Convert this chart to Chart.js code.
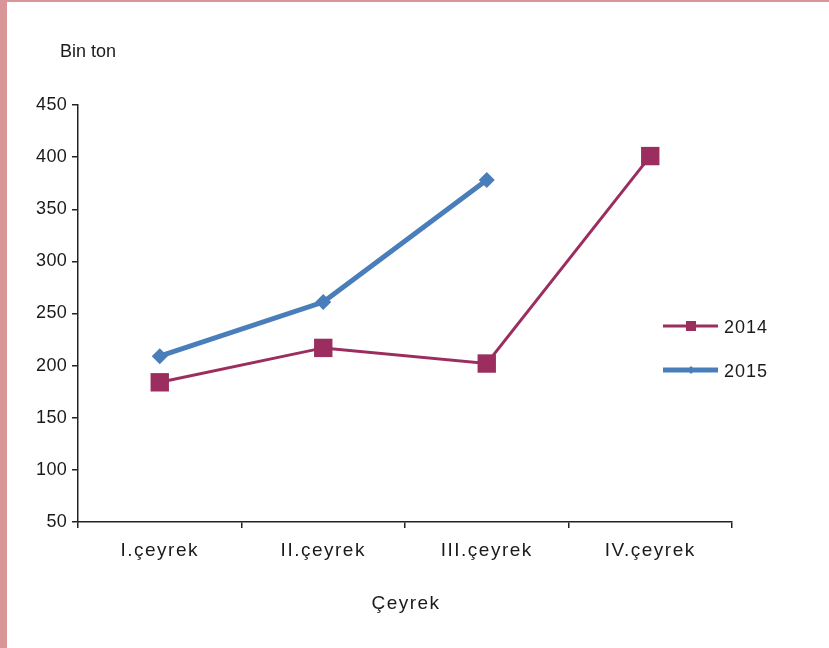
<!DOCTYPE html>
<html>
<head>
<meta charset="utf-8">
<script src="https://cdn.jsdelivr.net/npm/chart.js@4.4.1/dist/chart.umd.min.js"></script>
<style>
  html, body { margin: 0; padding: 0; background: #fff; }
  #frame {
    width: 822px; height: 646px;
    border-left: 7px solid #d99597;
    border-top: 2px solid #d99597;
    position: relative;
  }
  canvas { display: block; }
</style>
</head>
<body>
<div id="frame"><canvas id="myChart" width="822" height="646"></canvas></div>
<script>
'use strict';
// data
let quarters = ['I.çeyrek', 'II.çeyrek', 'III.çeyrek', 'IV.çeyrek'];
let seriesNames = ['2014', '2015'];
let values2014 = [184, 217, 202, 401];
let values2015 = [209, 261, 378, null];
let yTicks = [50, 100, 150, 200, 250, 300, 350, 400, 450];
let yTitle = 'Bin ton';
let xTitle = 'Çeyrek';

let col2014 = '#9b2d5f';
let col2015 = '#4a7ebb';
let fontName = '"Liberation Sans", Arial, sans-serif';

// x labels in the picture are spaced a bit wider than the y numbers
let spacing = {
  id: 'spacing',
  beforeDraw(chart) { chart.ctx.letterSpacing = '1.5px'; },
  afterDatasetsDraw(chart) { chart.ctx.letterSpacing = '0.3px'; }
};

// titles + legend drawn on canvas
let extras = {
  id: 'extras',
  afterDraw(chart) {
    let ctx = chart.ctx;
    ctx.save();
    ctx.fillStyle = '#1a1a1a';
    ctx.font = '18px ' + fontName;
    ctx.textBaseline = 'middle';
    ctx.letterSpacing = '0px';
    ctx.textAlign = 'left';
    ctx.fillText(yTitle, 53, 50);
    ctx.font = '19px ' + fontName;
    ctx.letterSpacing = '1.5px';
    ctx.textAlign = 'center';
    ctx.fillText(xTitle, 399, 602);

    // legend
    ctx.font = '18px ' + fontName;
    ctx.letterSpacing = '1px';
    let rows = [
      {name: seriesNames[0], color: col2014, y: 324, w: 3, style: 'rect'},
      {name: seriesNames[1], color: col2015, y: 368, w: 5, style: 'diamond'}
    ];
    rows.forEach(function (r) {
      ctx.strokeStyle = r.color;
      ctx.lineWidth = r.w;
      ctx.beginPath();
      ctx.moveTo(656, r.y);
      ctx.lineTo(711, r.y);
      ctx.stroke();
      ctx.fillStyle = r.color;
      if (r.style === 'rect') {
        ctx.fillRect(679, r.y - 5, 10, 10);
      } else {
        ctx.beginPath();
        ctx.moveTo(684, r.y - 4);
        ctx.lineTo(688, r.y);
        ctx.lineTo(684, r.y + 4);
        ctx.lineTo(680, r.y);
        ctx.closePath();
        ctx.fill();
      }
      ctx.fillStyle = '#1a1a1a';
      ctx.textAlign = 'left';
      ctx.fillText(r.name, 717, r.y + 2);
    });
    ctx.restore();
  }
};

let ctx = document.getElementById('myChart').getContext('2d');
let myChart = new Chart(ctx, {
  type: 'line',
  data: {
    labels: quarters,
    datasets: [{
      label: seriesNames[0],
      data: values2014,
      borderColor: col2014,
      backgroundColor: col2014,
      borderWidth: 3,
      pointStyle: 'rect',
      pointRadius: 13,
      pointBorderWidth: 0,
      tension: 0
    }, {
      label: seriesNames[1],
      data: values2015,
      borderColor: col2015,
      backgroundColor: col2015,
      borderWidth: 5,
      pointStyle: 'rectRot',
      pointRadius: 8,
      pointBorderWidth: 0,
      tension: 0
    }]
  },
  options: {
    responsive: false,
    animation: false,
    layout: { padding: { top: 103, right: 97, bottom: 0, left: 0 } },
    plugins: { legend: { display: false }, tooltip: { enabled: false } },
    scales: {
      x: {
        offset: true,
        grid: { offset: true, drawOnChartArea: false, drawTicks: true, tickLength: 6, color: '#222', lineWidth: 1.5 },
        border: { display: true, color: '#222', width: 1.5 },
        ticks: { color: '#1a1a1a', font: { family: fontName, size: 19 }, padding: 11, maxRotation: 0 },
        afterFit(scale) { scale.height = 126; }
      },
      y: {
        min: 50,
        max: 450,
        afterBuildTicks(scale) { scale.ticks = yTicks.map(function (v) { return {value: v}; }); },
        grid: { drawOnChartArea: false, drawTicks: true, tickLength: 6, color: '#222', lineWidth: 1.5 },
        border: { display: true, color: '#222', width: 1.5 },
        ticks: { z: 1, color: '#1a1a1a', font: { family: fontName, size: 18 }, padding: 5 },
        afterFit(scale) { scale.width = 71; }
      }
    }
  },
  plugins: [spacing, extras]
});
</script>
</body>
</html>
